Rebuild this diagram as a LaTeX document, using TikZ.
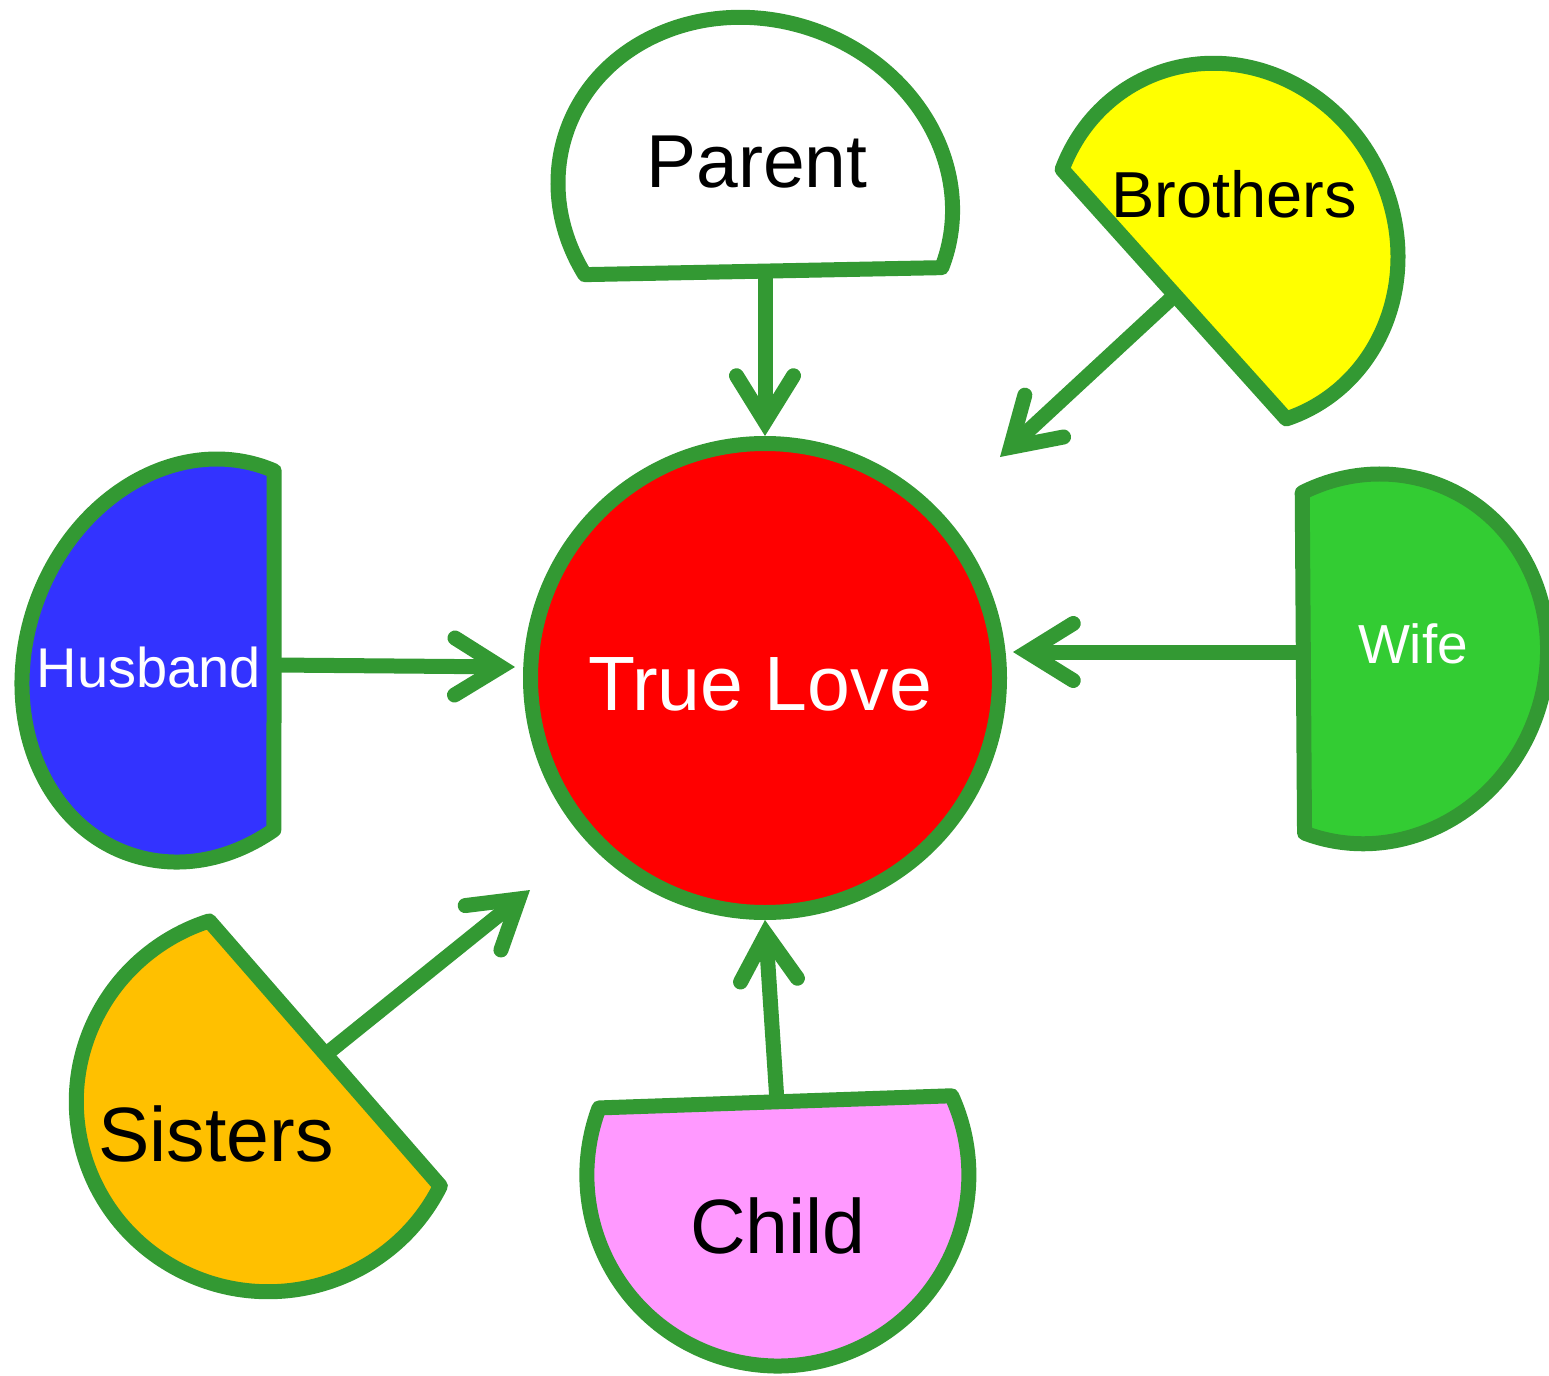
\documentclass[tikz,border=0pt]{standalone}
\usepackage{fontspec}
\setmainfont{Liberation Sans}
\usetikzlibrary{arrows.meta}
\definecolor{edgegreen}{RGB}{51,153,51}
\definecolor{lovered}{RGB}{255,0,0}
\definecolor{husbandblue}{RGB}{51,51,255}
\definecolor{wifegreen}{RGB}{51,204,51}
\definecolor{sisterorange}{RGB}{255,192,0}
\definecolor{childpink}{RGB}{255,153,255}
\definecolor{brotheryellow}{RGB}{255,255,0}
\begin{document}
\begin{tikzpicture}[x=0.5pt,y=-0.5pt,
  segshape/.style={draw=edgegreen, line width=7.5pt, line join=round},
  conn/.style={draw=edgegreen, line width=7.5pt,
    -{Straight Barb[length=23pt,width=28.5pt,line cap=round,line join=miter]}},
  lbl/.style={anchor=base, inner sep=0pt}
]
\useasboundingbox (0,0) rectangle (1549,1376);

% central circle
\node[circle, draw=edgegreen, fill=lovered, line width=7.5pt,
      minimum size=234.5pt, inner sep=0pt] (love) at (765,678) {};
\node[lbl, text=white, font=\fontsize{38.5}{46}\selectfont] (lovetext) at (760,710) {True Love};

% Parent
\begin{scope}[shift={(755.3,196.5)}, rotate=-19.01]
\draw[segshape, fill=white] (132.87:199.6 and 176.6)
  arc[start angle=132.87, end angle=362.12, x radius=199.6, y radius=176.6] -- cycle;
\end{scope}
\node[lbl, font=\fontsize{37.5}{45}\selectfont] (parent) at (757,187) {Parent};

% Brothers
\begin{scope}[shift={(1224.3,245.2)}, rotate=-63.05]
\draw[segshape, fill=brotheryellow] (139.78:184.7 and 170.7)
  arc[start angle=139.78, end angle=367.9, x radius=184.7, y radius=170.7] -- cycle;
\end{scope}
\node[lbl, font=\fontsize{32.5}{39}\selectfont] (brothers) at (1234,217) {Brothers};

% Husband
\begin{scope}[shift={(196.7,660.5)}, rotate=70.68]
\draw[segshape, fill=husbandblue] (130.93:205 and 170.6)
  arc[start angle=130.93, end angle=363.51, x radius=205, y radius=170.6] -- cycle;
\end{scope}
\node[lbl, text=white, font=\fontsize{28}{34}\selectfont] (husband) at (149,687) {Husband};

% Wife
\begin{scope}[shift={(1371.5,658.9)}, rotate=67.8]
\draw[segshape, fill=wifegreen] (-46.79:186.6 and 174.2)
  arc[start angle=-46.79, end angle=178.75, x radius=186.6, y radius=174.2] -- cycle;
\end{scope}
\node[lbl, text=white, font=\fontsize{27.5}{33}\selectfont] (wife) at (1413,663) {Wife};

% Sisters
\begin{scope}[shift={(268.3,1101.7)}]
\draw[segshape, fill=sisterorange] (26.35:192 and 190)
  arc[start angle=26.35, end angle=252.08, x radius=192, y radius=190] -- cycle;
\end{scope}
\node[lbl, font=\fontsize{38.5}{46}\selectfont] (sisters) at (216,1161) {Sisters};

% Child
\begin{scope}[shift={(777.85,1175)}]
\draw[segshape, fill=childpink] (-24.51:191 and 191)
  arc[start angle=-24.51, end angle=200.56, x radius=191, y radius=191] -- cycle;
\end{scope}
\node[lbl, font=\fontsize{38.5}{46}\selectfont] (child) at (778,1253) {Child};

% connector end points
\coordinate (parentout) at (765,271.7);
\coordinate (brothersout) at (1175,295);
\coordinate (brotherstip) at (1000,457);
\coordinate (husbandout) at (274.7,665);
\coordinate (husbandtip) at (515,667);
\coordinate (wifeout) at (1303.4,652);
\coordinate (wifetip) at (1013,652);
\coordinate (sistersout) at (325.5,1054.6);
\coordinate (sisterstip) at (530,890);
\coordinate (childout) at (777,1101.5);

\draw[conn] (parentout) -- (love.north);
\draw[conn] (brothersout) -- (brotherstip);
\draw[conn] (husbandout) -- (husbandtip);
\draw[conn] (wifeout) -- (wifetip);
\draw[conn] (sistersout) -- (sisterstip);
\draw[conn] (childout) -- (love.south);
\end{tikzpicture}
\end{document}
